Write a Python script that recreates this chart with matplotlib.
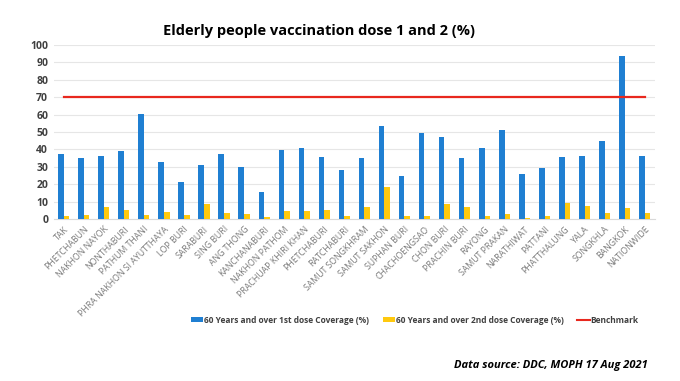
import numpy as np
import matplotlib
matplotlib.use("Agg")
import matplotlib.pyplot as plt
from matplotlib.patches import Patch
from matplotlib.lines import Line2D

# ── data ────────────────────────────────────────────────────
provinces = [
    "TAK", "PHETCHABUN", "NAKHON NAYOK", "NONTHABURI", "PATHUM THANI",
    "PHRA NAKHON SI AYUTTHAYA", "LOP BURI", "SARABURI", "SING BURI",
    "ANG THONG", "KANCHANABURI", "NAKHON PATHOM", "PRACHUAP KHIRI KHAN",
    "PHETCHABURI", "RATCHABURI", "SAMUT SONGKHRAM", "SAMUT SAKHON",
    "SUPHAN BURI", "CHACHOENGSAO", "CHON BURI", "PRACHIN BURI", "RAYONG",
    "SAMUT PRAKAN", "NARATHIWAT", "PATTANI", "PHATTHALUNG", "YALA",
    "SONGKHLA", "BANGKOK", "NATIONWIDE",
]
dose1 = [37.4, 35.2, 36.0, 39.1, 60.3, 33.0, 21.1, 30.8, 37.4, 29.9,
         15.7, 39.5, 40.6, 35.6, 28.4, 34.9, 53.6, 24.5, 49.2, 47.3,
         35.1, 40.6, 51.3, 25.9, 29.3, 35.6, 36.4, 44.6, 93.7, 36.0]
dose2 = [1.7, 2.3, 6.9, 5.0, 2.3, 4.0, 2.3, 8.4, 3.4, 2.7,
         1.3, 4.6, 4.8, 5.4, 1.7, 6.9, 18.6, 1.9, 1.7, 8.8,
         6.7, 1.5, 3.1, 0.8, 1.9, 9.0, 7.7, 3.6, 6.3, 3.4]
benchmark = 70

BLUE = "#1f7fd2"
YELLOW = "#ffc90e"
RED = "#e8281e"

plt.rcParams["font.family"] = ["Open Sans", "DejaVu Sans"]

fig = plt.figure(figsize=(6.8, 3.81), dpi=100, facecolor="white")
ax = fig.add_axes([0.079, 0.425, 0.884, 0.457])

x = np.arange(len(provinces))
w = 0.28
ax.bar(x - w / 2, dose1, width=w, color=BLUE, zorder=3)
ax.bar(x + w / 2, dose2, width=w, color=YELLOW, zorder=3)
ax.plot([x[0], x[-1]], [benchmark, benchmark], color=RED, linewidth=1.6, zorder=4)

ax.set_xlim(-0.5, len(provinces) - 0.5)
ax.set_ylim(0, 100)
ax.set_yticks(range(0, 101, 10))
ax.grid(axis="y", color="#e6e6e6", linewidth=0.8, zorder=0)
for s in ax.spines.values():
    s.set_visible(False)
ax.spines["bottom"].set_visible(True)
ax.spines["bottom"].set_color("#d9d9d9")
ax.tick_params(axis="both", length=0)
ax.tick_params(axis="y", labelsize=7.5, labelcolor="#404040", pad=4)
for lbl in ax.get_yticklabels():
    lbl.set_fontweight("bold")

ax.set_xticks(x)
ax.set_xticklabels(provinces, rotation=45, ha="right", rotation_mode="anchor",
                   fontsize=6.3, color="#7a7a7a")
ax.tick_params(axis="x", pad=4)

fig.text(0.469, 0.918, "Elderly people vaccination dose 1 and 2 (%)",
         ha="center", va="center", fontsize=10.5, fontweight="bold", color="black")

handles = [
    Patch(facecolor=BLUE, edgecolor="none"),
    Patch(facecolor=YELLOW, edgecolor="none"),
    Line2D([0], [0], color=RED, linewidth=1.5),
]
labels = ["60 Years and over 1st dose Coverage (%)",
          "60 Years and over 2nd dose Coverage (%)",
          "Benchmark"]
leg = fig.legend(handles, labels, loc="center", bbox_to_anchor=(0.61, 0.16),
                 ncol=3, frameon=False, fontsize=6.0, handlelength=1.5,
                 handleheight=0.6, handletextpad=0.1, columnspacing=1.6)
for t in leg.get_texts():
    t.set_color("#404040")
    t.set_fontweight("bold")

fig.text(0.953, 0.04, "Data source: DDC, MOPH 17 Aug 2021", ha="right",
         va="center", fontsize=8, fontweight="bold", fontstyle="italic",
         color="black")

fig.savefig("out.png", dpi=100, facecolor="white")
